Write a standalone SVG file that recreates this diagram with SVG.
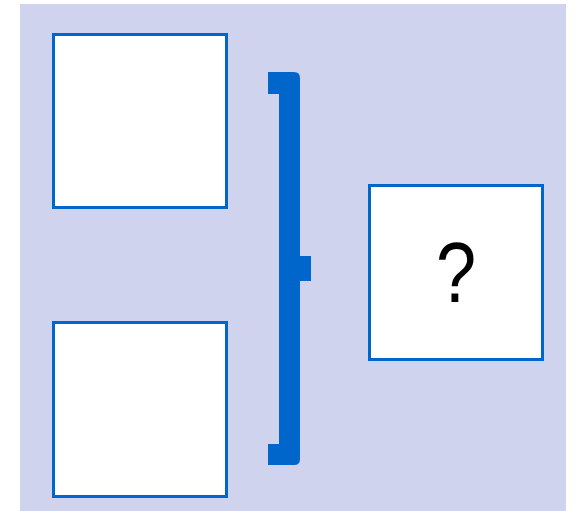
<svg xmlns="http://www.w3.org/2000/svg" width="575" height="511" viewBox="0 0 575 511">
<style>
.box{fill:#FFFFFF;stroke:#0066CC;stroke-width:3}
.lbl{font-family:"Liberation Sans",Arial,sans-serif;font-size:85px;fill:#000000;text-anchor:middle}
</style>
<rect x="0" y="0" width="575" height="511" fill="#FFFFFF"/>
<rect x="20" y="4" width="546" height="507" fill="#CFD3ED"/>
<g id="box-top"><rect class="box" x="53.5" y="34.5" width="173" height="173"/></g>
<g id="box-bottom"><rect class="box" x="53.5" y="322.5" width="173" height="174"/></g>
<g id="connectors"><path d="M268,72 H294 Q300,72 300,78 V256 H311 V281 H300 V459 Q300,465 294,465 H268 V444 H279 V94 H268 Z" fill="#0066CC"/></g>
<g id="box-result"><rect class="box" x="369.5" y="185.5" width="173" height="174"/><text class="lbl" transform="translate(456,302) scale(0.85,1)" x="0" y="0">?</text></g>
</svg>
